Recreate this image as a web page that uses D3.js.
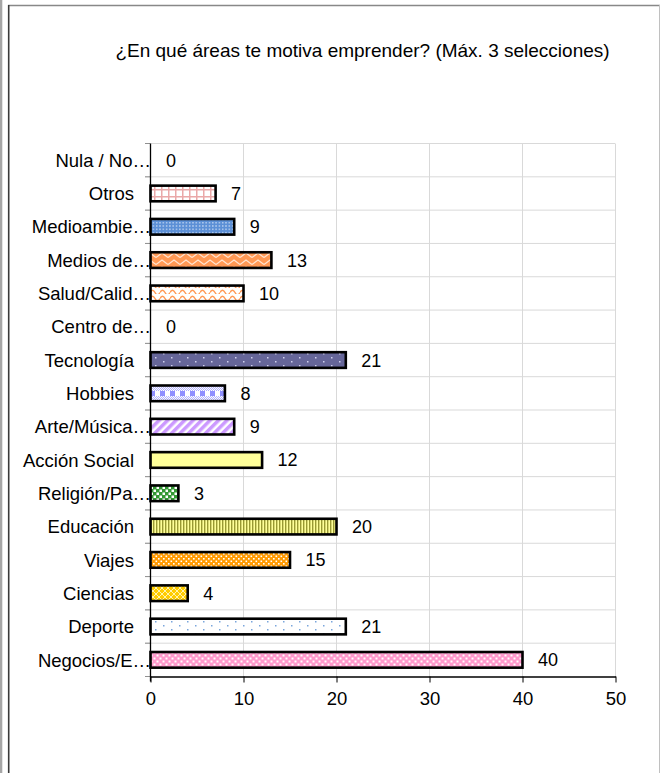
<!DOCTYPE html>
<html><head><meta charset="utf-8">
<script src="https://cdn.jsdelivr.net/npm/d3@7"></script>
<style>html,body{margin:0;padding:0;background:#fff;}svg{display:block;}</style>
</head><body>
<script>
const title = "¿En qué áreas te motiva emprender? (Máx. 3 selecciones)";
const categories = ["Nula / No…","Otros","Medioambie…","Medios de…","Salud/Calid…","Centro de…","Tecnología","Hobbies","Arte/Música…","Acción Social","Religión/Pa…","Educación","Viajes","Ciencias","Deporte","Negocios/E…"];
const values = [0,7,9,13,10,0,21,8,9,12,3,20,15,4,21,40];
const xTicks = [0,10,20,30,40,50];
const fills = ["none","otros","medioamb","medios","salud","none","tecno","hobbies","arte","accion","religion","educacion","viajes","ciencias","deporte","negocios"];

const W = 660, H = 773;
const FONT = "Liberation Sans, Arial, sans-serif";
const svg = d3.select("body").append("svg").attr("width", W).attr("height", H);
const defs = svg.append("defs");

function pat(id, w, h, draw, transform) {
  const p = defs.append("pattern").attr("id", id).attr("patternUnits", "userSpaceOnUse")
    .attr("width", w).attr("height", h);
  if (transform) p.attr("patternTransform", transform);
  draw(p);
}
pat("negocios", 6, 6, p => {
  p.append("rect").attr("width", 6).attr("height", 6).attr("fill", "#ff99cc");
  p.append("rect").attr("x", 0.5).attr("y", 0.5).attr("width", 2).attr("height", 2).attr("fill", "#fff");
  p.append("rect").attr("x", 3.5).attr("y", 3.5).attr("width", 2).attr("height", 2).attr("fill", "#fff");
});
pat("deporte", 16, 8, p => {
  p.append("rect").attr("width", 16).attr("height", 8).attr("fill", "#fff");
  p.append("rect").attr("x", 3).attr("y", 1).attr("width", 1.5).attr("height", 1.5).attr("fill", "#7aa6dc");
  p.append("rect").attr("x", 11).attr("y", 5).attr("width", 1.5).attr("height", 1.5).attr("fill", "#7aa6dc");
});
pat("ciencias", 6, 6, p => {
  p.append("rect").attr("width", 6).attr("height", 6).attr("fill", "#ffcc00");
  p.append("path").attr("d", "M0,0L6,6M6,0L0,6").attr("stroke", "#fff4b0").attr("stroke-width", 1);
});
pat("viajes", 5, 5, p => {
  p.append("rect").attr("width", 5).attr("height", 5).attr("fill", "#ff9900");
  p.append("rect").attr("x", 0.5).attr("y", 0.5).attr("width", 1.6).attr("height", 1.6).attr("fill", "#fff");
  p.append("rect").attr("x", 3).attr("y", 3).attr("width", 1.6).attr("height", 1.6).attr("fill", "#fff");
});
pat("educacion", 3, 3, p => {
  p.append("rect").attr("width", 3).attr("height", 3).attr("fill", "#ffff99");
  p.append("rect").attr("width", 1.4).attr("height", 3).attr("fill", "#999933");
});
pat("religion", 6, 6, p => {
  p.append("rect").attr("width", 6).attr("height", 6).attr("fill", "#339933");
  p.append("rect").attr("x", 0.5).attr("y", 0.5).attr("width", 2.5).attr("height", 2.5).attr("fill", "#fff");
  p.append("rect").attr("x", 3.5).attr("y", 3.5).attr("width", 2.5).attr("height", 2.5).attr("fill", "#fff");
});
pat("accion", 4, 4, p => {
  p.append("rect").attr("width", 4).attr("height", 4).attr("fill", "#ffff99");
});
pat("arte", 6, 6, p => {
  p.append("rect").attr("width", 6).attr("height", 6).attr("fill", "#fff");
  p.append("rect").attr("width", 3.5).attr("height", 6).attr("fill", "#cc99ff");
}, "rotate(45)");
pat("hobbies", 10, 12, p => {
  p.append("rect").attr("width", 10).attr("height", 12).attr("fill", "#fff");
  for (let i = 0; i < 10; i++) for (let j = 0; j < 7; j++) {
    if ((i + j) % 2 === 0) p.append("rect").attr("x", i).attr("y", j).attr("width", 1).attr("height", 1).attr("fill", "#b3b3ff");
  }
  p.append("rect").attr("x", 0).attr("y", 7).attr("width", 5).attr("height", 5).attr("fill", "#8f8fff");
});
pat("tecno", 16, 8, p => {
  p.append("rect").attr("width", 16).attr("height", 8).attr("fill", "#666699");
  p.append("rect").attr("x", 3).attr("y", 1).attr("width", 1.5).attr("height", 1.5).attr("fill", "#d0d0ee");
  p.append("rect").attr("x", 11).attr("y", 5).attr("width", 1.5).attr("height", 1.5).attr("fill", "#d0d0ee");
});
pat("salud", 10, 6, p => {
  p.append("rect").attr("width", 10).attr("height", 6).attr("fill", "#fff");
  p.append("path").attr("d", "M0,4.5Q2.5,0 5,4.5T10,4.5").attr("fill", "none").attr("stroke", "#ff9955").attr("stroke-width", 1.5);
});
pat("medios", 12, 7, p => {
  p.append("rect").attr("width", 12).attr("height", 7).attr("fill", "#ff9955");
  p.append("path").attr("d", "M0,5.5L6,1L12,5.5").attr("fill", "none").attr("stroke", "#ffe4d0").attr("stroke-width", 1.3);
});
pat("medioamb", 3.3, 3.3, p => {
  p.append("rect").attr("width", 3.3).attr("height", 3.3).attr("fill", "#5b8fd6");
  p.append("rect").attr("x", 1).attr("y", 1).attr("width", 1.2).attr("height", 1.2).attr("fill", "#e6eefa");
});
pat("otros", 7, 7, p => {
  p.append("rect").attr("width", 7).attr("height", 7).attr("fill", "#fff");
  p.append("rect").attr("width", 7).attr("height", 1.5).attr("fill", "#eaa8a8");
  p.append("rect").attr("width", 1.5).attr("height", 7).attr("fill", "#eaa8a8");
});

// Frame
svg.append("rect").attr("x", 0).attr("y", 0).attr("width", 2.3).attr("height", H).attr("fill", "#a6a6a6");
svg.append("line").attr("x1", 8).attr("x2", W).attr("y1", 5.5).attr("y2", 5.5).attr("stroke", "#888").attr("stroke-width", 1.5);
svg.append("line").attr("x1", 8.7).attr("x2", 8.7).attr("y1", 5).attr("y2", H).attr("stroke", "#3a3a3a").attr("stroke-width", 1.6);
svg.append("line").attr("x1", 659.5).attr("x2", 659.5).attr("y1", 5).attr("y2", H).attr("stroke", "#c0c0c0").attr("stroke-width", 1);

// Title
svg.append("text").attr("x", 362.5).attr("y", 57).attr("text-anchor", "middle")
  .attr("font-family", FONT).attr("font-size", 19).attr("fill", "#000").text(title);

const plot = {left: 150, right: 615, top: 143.5, bottom: 676.5};
const x = d3.scaleLinear().domain([0, 50]).range([plot.left, plot.right]);
const y = d3.scaleBand().domain(categories).range([plot.top, plot.bottom]).paddingInner(0.53).paddingOuter(0.265);
const step = y.step();

const g = svg.append("g");
g.selectAll(".vg").data(xTicks.filter(d => d > 0)).join("line")
  .attr("x1", d => x(d) + 0.5).attr("x2", d => x(d) + 0.5)
  .attr("y1", plot.top).attr("y2", plot.bottom).attr("stroke", "#d9d9d9").attr("stroke-width", 1);
const bounds = d3.range(categories.length).map(i => plot.top + i * step);
g.selectAll(".hg").data(bounds).join("line")
  .attr("x1", plot.left - 5).attr("x2", plot.right)
  .attr("y1", d => d).attr("y2", d => d).attr("stroke", "#d9d9d9").attr("stroke-width", 1);
g.selectAll(".ct").data(bounds.concat([plot.bottom])).join("line")
  .attr("x1", plot.left - 5).attr("x2", plot.left)
  .attr("y1", d => d).attr("y2", d => d).attr("stroke", "#909090").attr("stroke-width", 1);

g.selectAll(".bar").data(categories.map((c, i) => ({c, v: values[i], f: fills[i]})).filter(d => d.v > 0)).join("rect")
  .attr("x", x(0) + 0.5).attr("y", d => y(d.c))
  .attr("width", d => x(d.v) - x(0)).attr("height", y.bandwidth())
  .attr("fill", d => `url(#${d.f})`).attr("stroke", "#000").attr("stroke-width", 2.6);

g.append("line").attr("x1", plot.left + 0.5).attr("x2", plot.left + 0.5).attr("y1", plot.top).attr("y2", plot.bottom + 5).attr("stroke", "#000").attr("stroke-width", 1.3);
const xa = g.append("g").attr("transform", `translate(0.5,${plot.bottom})`)
  .call(d3.axisBottom(x).tickValues(xTicks).tickSize(6).tickPadding(9).tickSizeOuter(0));
xa.select(".domain").attr("stroke", "#000").attr("stroke-width", 1.3);
xa.selectAll(".tick line").attr("stroke", "#000");
xa.selectAll("text").attr("font-family", FONT).attr("font-size", 18.5).attr("fill", "#000");

g.selectAll(".cl").data(categories).join("text")
  .attr("x", d => d.endsWith("…") ? plot.left + 1 : plot.left - 16)
  .attr("y", d => y(d) + y.bandwidth() / 2).attr("dy", "0.36em").attr("text-anchor", "end")
  .attr("font-family", FONT).attr("font-size", 18.5).attr("fill", "#000")
  .text(d => d);

g.selectAll(".vl").data(categories.map((c, i) => ({c, v: values[i]}))).join("text")
  .attr("x", d => x(d.v) + 16).attr("y", d => y(d.c) + y.bandwidth() / 2).attr("dy", "0.36em")
  .attr("font-family", FONT).attr("font-size", 18).attr("fill", "#000")
  .text(d => d.v);
</script>
</body></html>
